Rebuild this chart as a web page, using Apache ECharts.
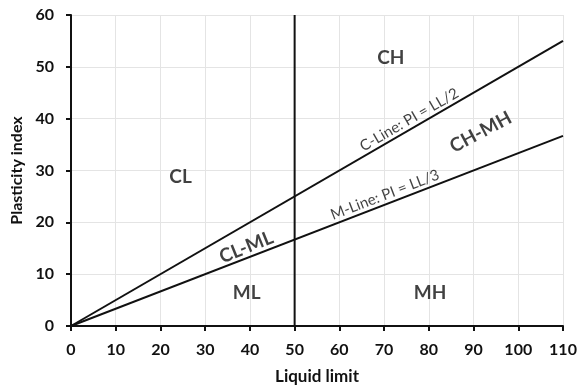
<!DOCTYPE html>
<html>
<head>
<meta charset="utf-8">
<script src="https://cdn.jsdelivr.net/npm/echarts@6/dist/echarts.min.js"></script>
<style>
html, body { margin: 0; padding: 0; background: #ffffff; }
#chart { width: 577px; height: 387px; }
</style>
</head>
<body>
<div id="chart"></div>
<script>
// line end points (liquid limit -> plasticity index)
const cLine = [[0, 0], [110, 55]]
const mLine = [[0, 0], [110, 36.67]]
const llDivider = [[50, 0], [50, 60]]

// zone labels
const zoneNames = ['CH', 'CL', 'CL-ML', 'ML', 'MH', 'CH-MH']
const zoneX = [71.5, 24.5, 39.2, 39.3, 80.3, 91.6]
const zoneY = [51.7, 28.8, 15.2, 6.4, 6.4, 37.4]
const zoneRotate = [0, 0, 22, 0, 0, 28]

// line labels
const lineNames = ['C-Line: PI = LL/2', 'M-Line: PI = LL/3']
const lineX = [75.6, 70.2]
const lineY = [39.8, 25.3]
const lineRotate = [30, 21]

const FONT = 'Lato'
const TXT = '#111111'

const zoneData = zoneNames.map((n, i) => ({
    value: [zoneX[i], zoneY[i]],
    label: { formatter: n, rotate: zoneRotate[i] }
}))
const lineLabelData = lineNames.map((n, i) => ({
    value: [lineX[i], lineY[i]],
    label: { formatter: n, rotate: lineRotate[i] }
}))

function lineSeries(data){
    return {
        type: 'line',
        data: data,
        symbol: 'none',
        silent: true,
        lineStyle: { color: '#111111', width: 2 },
        z: 3
    }
}

const chart = echarts.init(document.getElementById('chart'))
chart.setOption({
    backgroundColor: '#ffffff',
    animation: false,
    grid: { left: 71, right: 14, top: 15, bottom: 61, outerBoundsMode: 'none', containLabel: false },
    xAxis: {
        type: 'value',
        min: 0, max: 110, interval: 10,
        name: 'Liquid limit',
        nameLocation: 'middle',
        nameGap: 42,
        nameTextStyle: { fontFamily: FONT, fontWeight: 'bold', fontSize: 17, color: TXT },
        axisLine: { lineStyle: { color: '#111', width: 2 } },
        axisTick: { show: true, length: 5, lineStyle: { color: '#111', width: 2 } },
        axisLabel: { fontFamily: FONT, fontWeight: 'bold', fontSize: 16, color: TXT, margin: 16 },
        splitLine: { show: true, lineStyle: { color: '#e4e4e4', width: 1 } }
    },
    yAxis: {
        type: 'value',
        min: 0, max: 60, interval: 10,
        name: 'Plasticity index',
        nameLocation: 'middle',
        nameGap: 45,
        nameTextStyle: { fontFamily: FONT, fontWeight: 'bold', fontSize: 16, color: TXT },
        axisLine: { show: true, lineStyle: { color: '#111', width: 2 } },
        axisTick: { show: true, length: 5, lineStyle: { color: '#111', width: 2 } },
        axisLabel: { fontFamily: FONT, fontWeight: 'bold', fontSize: 16, color: TXT, margin: 17 },
        splitLine: { show: true, lineStyle: { color: '#e4e4e4', width: 1 } }
    },
    series: [
        lineSeries(cLine),
        lineSeries(mLine),
        lineSeries(llDivider),
        {
            type: 'scatter',
            symbolSize: 0,
            silent: true,
            data: zoneData,
            label: {
                show: true, position: 'inside',
                fontFamily: FONT, fontWeight: 'bold', fontSize: 19, color: TXT
            },
            z: 4
        },
        {
            type: 'scatter',
            symbolSize: 0,
            silent: true,
            data: lineLabelData,
            label: {
                show: true, position: 'inside',
                fontFamily: FONT, fontSize: 15, color: TXT
            },
            z: 4
        }
    ]
})
</script>
</body>
</html>
